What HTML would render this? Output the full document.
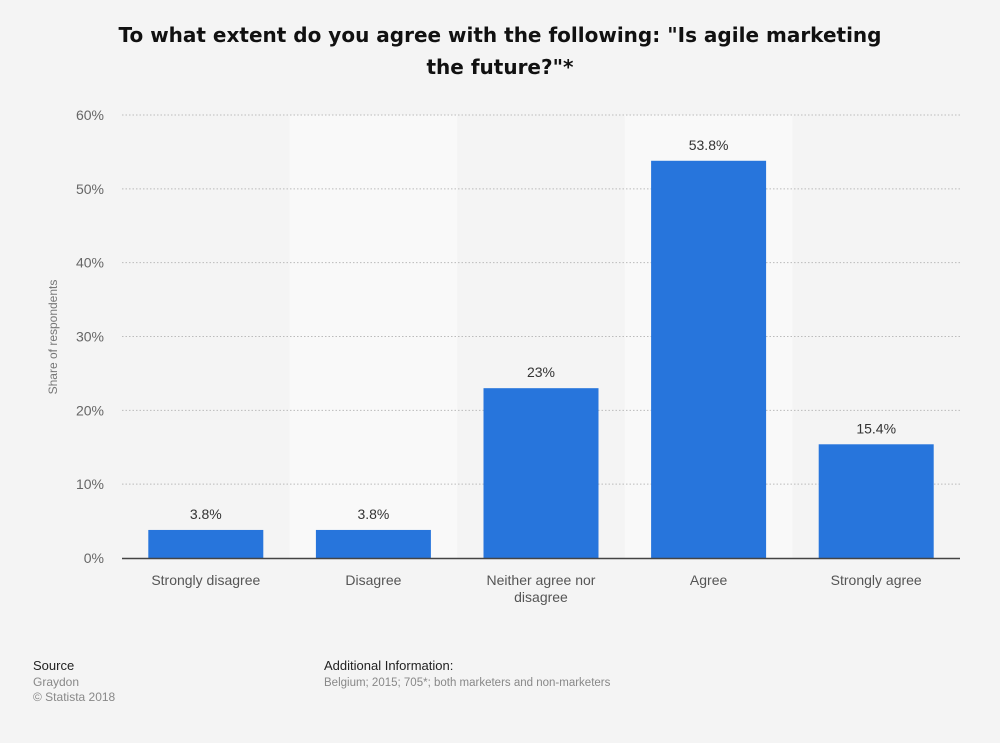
<!DOCTYPE html>
<html><head><meta charset="utf-8"><style>
body{margin:0;background:#f4f4f4;font-family:"Liberation Sans","DejaVu Sans",sans-serif;}
svg{display:block}
</style></head><body>
<svg width="1000" height="743" xmlns="http://www.w3.org/2000/svg">
<rect width="1000" height="743" fill="#f4f4f4"/>
<text x="500" y="42" text-anchor="middle" font-size="20" font-weight="bold" fill="#111" font-family="DejaVu Sans, sans-serif">To what extent do you agree with the following: "Is agile marketing</text>
<text x="500" y="74" text-anchor="middle" font-size="20" font-weight="bold" fill="#111" font-family="DejaVu Sans, sans-serif">the future?"*</text>
<g id="bands"></g><g id="grid"></g><g id="bars"></g><g id="labels"></g>
<line x1="122" x2="960" y1="558.5" y2="558.5" stroke="#444" stroke-width="1.5"/>
<text transform="translate(57,337) rotate(-90)" text-anchor="middle" font-size="12" fill="#777">Share of respondents</text>
<text x="33" y="670" font-size="13" fill="#222">Source</text>
<text x="33" y="686" font-size="12" fill="#888">Graydon</text>
<text x="33" y="701" font-size="12" fill="#888">© Statista 2018</text>
<text x="324" y="670" font-size="13" fill="#222">Additional Information:</text>
<text x="324" y="686" font-size="11.5" fill="#888">Belgium; 2015; 705*; both marketers and non-marketers</text>
</svg>
<script>
const categories=["Strongly disagree","Disagree","Neither agree nor|disagree","Agree","Strongly agree"];
const values=[3.8,3.8,23,53.8,15.4];
const valueLabels=["3.8%","3.8%","23%","53.8%","15.4%"];
const yTicks=[0,10,20,30,40,50,60];
const NS="http://www.w3.org/2000/svg";
const x0=122,x1=960,yBase=558,yTop=115,yMax=60;
const bw=(x1-x0)/categories.length;
const y=v=>yBase-(v/yMax)*(yBase-yTop);
const xc=i=>x0+bw*(i+0.5);
function mk(tag,attrs,parent,txt){const e=document.createElementNS(NS,tag);for(const k in attrs)e.setAttribute(k,attrs[k]);if(txt!=null)e.textContent=txt;document.getElementById(parent).appendChild(e);return e;}
categories.forEach((c,i)=>{if(i%2==1){const r=mk('rect',{x:x0+bw*i,y:yTop,width:bw,height:yBase-yTop,fill:'#f9f9f9'},'bands');

}});
yTicks.forEach(t=>{if(t>0){const l=mk('line',{x1:x0,x2:x1,y1:y(t),y2:y(t),stroke:'#bbb','stroke-dasharray':'1.5,2'},'grid');

}
const tx=mk('text',{x:104,y:y(t)+5,'text-anchor':'end','font-size':14,fill:'#666'},'grid',t+'%');

});
values.forEach((v,i)=>{const b=mk('rect',{x:xc(i)-57.5,y:y(v),width:115,height:yBase-y(v),fill:'#2775dc'},'bars');


const vl=mk('text',{x:xc(i),y:y(v)-11,'text-anchor':'middle','font-size':14,fill:'#333'},'labels',valueLabels[i]);


categories[i].split('|').forEach((ln,j)=>{const cl=mk('text',{x:xc(i),y:585+j*17,'text-anchor':'middle','font-size':14,fill:'#555'},'labels',ln);

});});
</script>
</body></html>
